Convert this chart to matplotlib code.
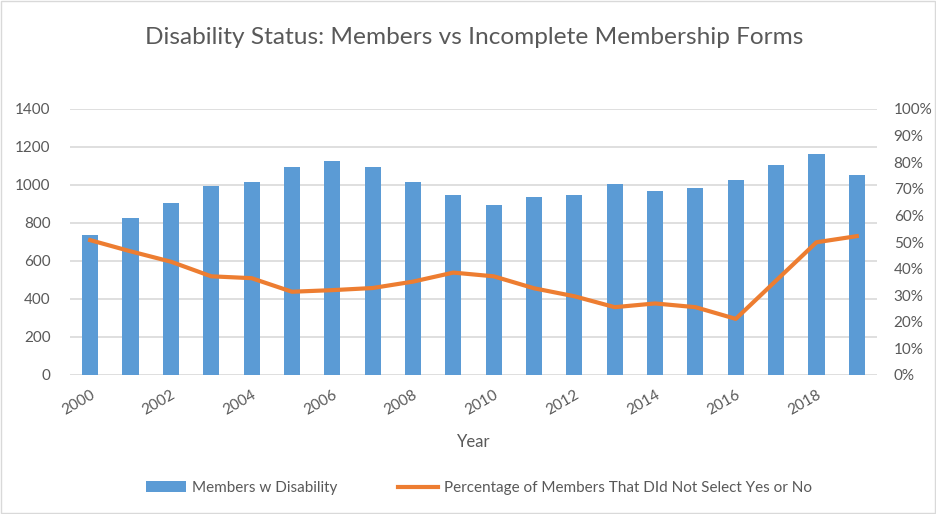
import matplotlib
matplotlib.use("Agg")
import matplotlib.pyplot as plt
import numpy as np
from matplotlib.patches import Rectangle
from matplotlib.ticker import FuncFormatter

years = list(range(2000, 2020))
members = [735, 824, 905, 996, 1017, 1096, 1125, 1096, 1017, 945, 896,
           935, 945, 1006, 966, 985, 1025, 1106, 1165, 1055]
pct_missing = [50.7, 46.5, 42.6, 37.1, 36.4, 31.3, 31.9, 32.7, 35.1, 38.5, 37.1,
               32.6, 29.6, 25.5, 26.9, 25.5, 21.1, 35.5, 49.9, 52.2]
left_ticks = [0, 200, 400, 600, 800, 1000, 1200, 1400]
right_ticks = [0, 10, 20, 30, 40, 50, 60, 70, 80, 90, 100]

title = "Disability Status: Members vs Incomplete Membership Forms"
bar_label = "Members w Disability"
line_label = "Percentage of Members That DId Not Select Yes or No"

plt.rcParams['font.family'] = ['Lato', 'DejaVu Sans']
TXT = '#595959'
BLUE = '#5B9BD5'
ORANGE = '#ED7D31'
GRID = '#D9D9D9'

fig = plt.figure(figsize=(9.37, 5.14), dpi=100)
ax = fig.add_axes([70/937, 1-375/514, (877-70)/937, (375-109)/514])
x = np.arange(len(years))
ax.bar(x, members, width=0.4, color=BLUE, zorder=2, label=bar_label)
ax.set_ylim(0, 1400)
ax.set_yticks(left_ticks)
ax.set_xlim(-0.5, len(years)-0.5)
ax.grid(axis='y', color=GRID, linewidth=1.2, zorder=0)
ax.set_axisbelow(True)
for s in ax.spines.values():
    s.set_visible(False)
ax.tick_params(axis='both', length=0, colors=TXT, labelsize=11)
ax.tick_params(axis='y', pad=14)
ax.set_xticks(x[::2])
ax.set_xticklabels([str(y) for y in years[::2]], rotation=30, ha='right',
                   rotation_mode='anchor', fontsize=11, color=TXT)
ax.tick_params(axis='x', pad=9)
ax.set_xlabel("Year", fontsize=12, color=TXT, labelpad=12)

ax2 = ax.twinx()
ax2.plot(x, pct_missing, color=ORANGE, linewidth=3, zorder=3, label=line_label,
         solid_joinstyle='round')
ax2.set_ylim(0, 100)
ax2.set_yticks(right_ticks)
ax2.yaxis.set_major_formatter(FuncFormatter(lambda v, p: f"{int(v)}%"))
for s in ax2.spines.values():
    s.set_visible(False)
ax2.tick_params(axis='y', length=0, colors=TXT, labelsize=11, pad=12)

fig.text(474/937, 1-37/514, title, ha='center', va='center', fontsize=17.6, color=TXT)

h1, l1 = ax.get_legend_handles_labels()
h2, l2 = ax2.get_legend_handles_labels()
fig.legend(h1+h2, l1+l2, loc='center', bbox_to_anchor=(479/937, 1-488/514), ncol=2,
           frameon=False, fontsize=11, labelcolor=TXT, columnspacing=4,
           handlelength=2.6, handletextpad=0.4)

fig.patches.append(Rectangle((0.001, 0.002), 0.997, 0.996, transform=fig.transFigure,
                             fill=False, edgecolor=GRID, linewidth=1))
fig.savefig("out.png", dpi=100)
